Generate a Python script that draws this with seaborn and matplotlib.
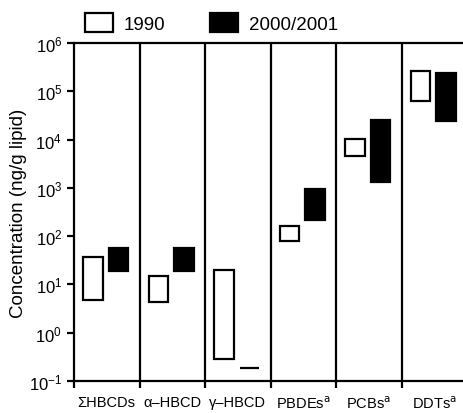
import matplotlib
matplotlib.use("Agg")
import matplotlib.pyplot as plt
import numpy as np
import seaborn as sns
from matplotlib.patches import Patch

# ---------------------------------------------------------------------------
# Data: concentration ranges (ng/g lipid)
# ---------------------------------------------------------------------------
categories = ["ΣHBCDs", "α–HBCD", "γ–HBCD",
              "PBDEs$^{\\mathrm{a}}$", "PCBs$^{\\mathrm{a}}$", "DDTs$^{\\mathrm{a}}$"]

low_1990 = [4.8, 4.4, 0.29, 81, 4500, 63000]
high_1990 = [37, 15, 20, 166, 10500, 257000]

low_2000 = [19, 19, 0.19, 215, 1300, 24000]
high_2000 = [56, 56, 0.19, 935, 26000, 240000]

sns.set_style("ticks")
plt.rcParams["font.family"] = ["Liberation Sans", "DejaVu Sans"]
plt.rcParams["font.size"] = 12
plt.rcParams["axes.unicode_minus"] = False
for key in ["text.color", "axes.labelcolor", "xtick.color", "ytick.color"]:
    plt.rcParams[key] = "black"

fig = plt.figure(figsize=(4.64, 4.14), dpi=100)
ax = fig.add_axes([74 / 464, 32 / 414, 390 / 464, 338 / 414])

x = np.arange(len(categories))
width = 0.30
lw = 1.6

ax.bar(x + 0.5 - 0.21, np.array(high_1990) - np.array(low_1990), width,
       bottom=low_1990, facecolor="white", edgecolor="black", linewidth=lw)
ax.bar(x + 0.5 + 0.18, np.array(high_2000) - np.array(low_2000), width,
       bottom=low_2000, facecolor="black", edgecolor="black", linewidth=lw)

# category dividers
for xi in x[1:]:
    ax.axvline(xi, color="black", linewidth=lw)

ax.set_yscale("log")
ax.set_ylim(0.1, 1e6)
ax.set_xlim(0, 390 / 65.5)
ax.yaxis.set_major_locator(matplotlib.ticker.LogLocator(base=10, numticks=10))
ax.yaxis.set_minor_locator(matplotlib.ticker.NullLocator())

ax.set_xticks(x)
ax.set_xticklabels([])
ax.set_xticks(x + 0.5, minor=True)
ax.set_xticklabels(categories, minor=True, fontsize=10.5)
ax.tick_params(axis="x", which="minor", length=0, pad=10)
ax.tick_params(axis="both", which="major", length=5, width=lw, color="black")
ax.set_ylabel("Concentration (ng/g lipid)", fontsize=13.5, labelpad=1)

for side in ["left", "top", "bottom"]:
    ax.spines[side].set_linewidth(lw)
    ax.spines[side].set_color("black")
ax.spines["right"].set_visible(False)

handles = [Patch(facecolor="white", edgecolor="black", linewidth=lw, label="1990"),
           Patch(facecolor="black", edgecolor="black", linewidth=lw, label="2000/2001")]
fig.legend(handles=handles, loc="center left", bbox_to_anchor=(85 / 464, 1 - 24 / 414),
           ncol=2, frameon=False, fontsize=13.5, handlelength=1.5, handleheight=1.2,
           handletextpad=0.55, columnspacing=2.4, borderaxespad=0, borderpad=0)

fig.savefig("out.png", dpi=100)
